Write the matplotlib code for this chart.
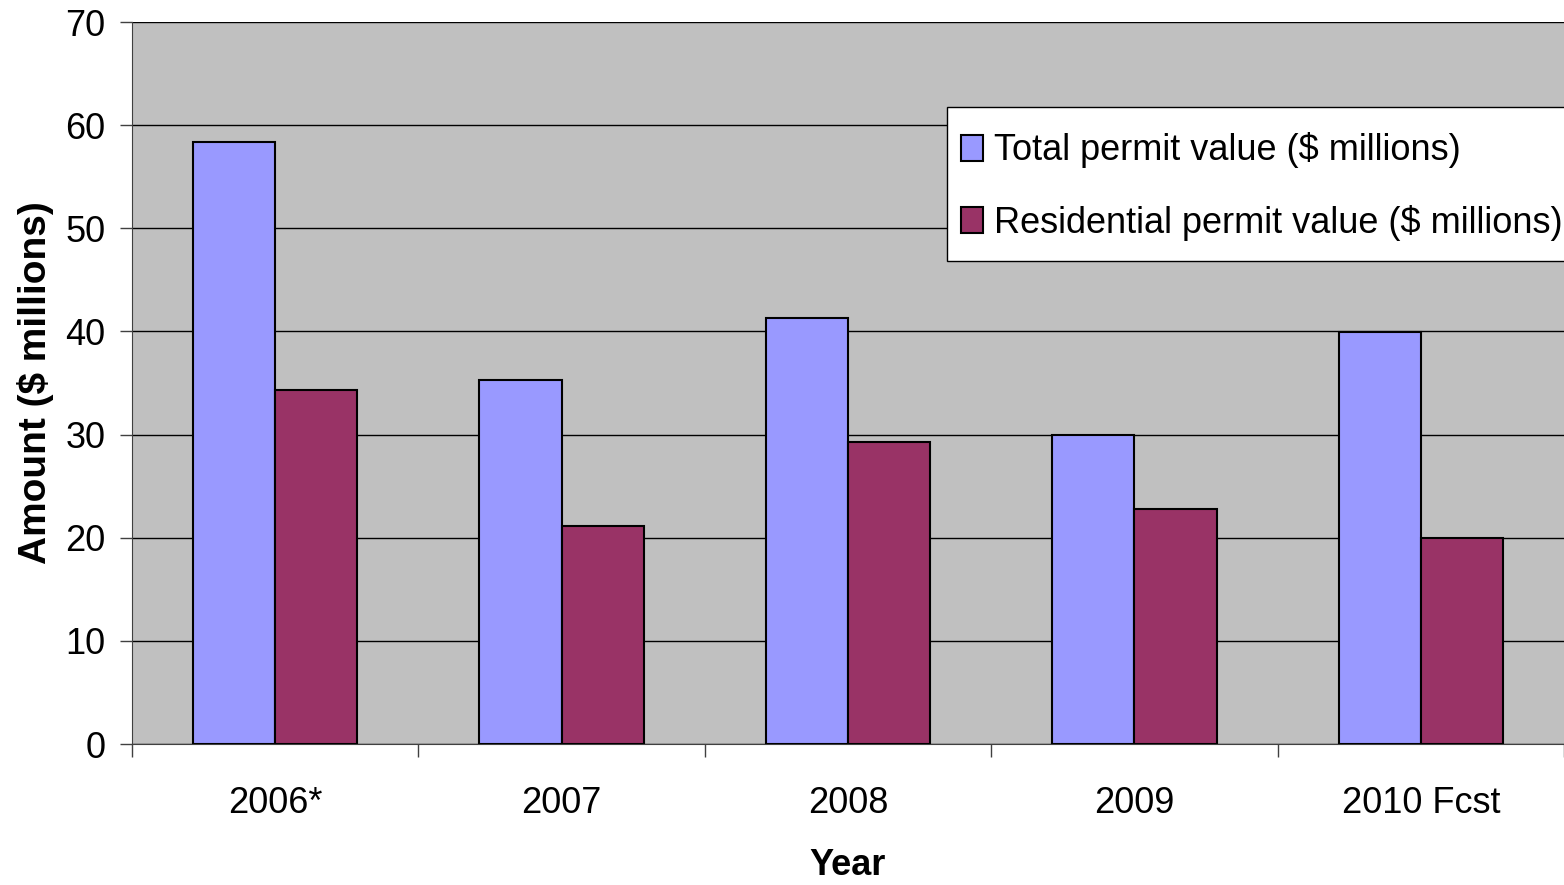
import numpy as np
import matplotlib.pyplot as plt
from matplotlib.patches import Rectangle

plt.rcParams['font.family'] = ['Liberation Sans', 'DejaVu Sans']

# 데이터
years = ['2006*', '2007', '2008', '2009', '2010 Fcst']
total = [58.4, 35.3, 41.3, 30.0, 39.9]
residential = [34.3, 21.1, 29.3, 22.8, 20.0]

x = np.arange(len(years))
w = 0.287

fig = plt.figure(figsize=(15.64, 8.85), dpi=100)
ax = fig.add_axes([132/1564, 141/885, 1 - 132/1564, 722/885])
ax.set_facecolor('#C0C0C0')

ax.bar(x - w/2, total, w, color='#9999FF', edgecolor='black', linewidth=1.5,
       label='Total permit value ($ millions)', zorder=3)
ax.bar(x + w/2, residential, w, color='#993366', edgecolor='black', linewidth=1.5,
       label='Residential permit value ($ millions)', zorder=3)

ax.set_xlim(-0.5, 4.5)
ax.set_ylim(0, 70)
ax.set_yticks(range(0, 71, 10))
ax.yaxis.grid(True, color='black', linewidth=1, zorder=1)

# x축 눈금은 구간 경계, 라벨은 가운데
ax.set_xticks(np.arange(-0.5, 5, 1))
ax.set_xticklabels([])
ax.set_xticks(x, minor=True)
ax.set_xticklabels(years, minor=True, fontsize=26)
ax.tick_params(axis='x', which='minor', length=0, pad=30)
ax.tick_params(axis='x', which='major', length=9, width=1, color='#404040')
ax.tick_params(axis='y', labelsize=26, length=9, width=1, color='#404040', pad=10)

for s in ['top', 'right']:
    ax.spines[s].set_visible(False)
ax.spines['left'].set_color('#404040')
ax.spines['bottom'].set_color('#404040')

ax.set_ylabel('Amount ($ millions)', fontsize=28, fontweight='bold', labelpad=8)
ax.set_xlabel('Year', fontsize=26, fontweight='bold', labelpad=20)

# 범례 상자 (흰 배경 + 검은 테두리)
box = Rectangle((947/1564, 1 - 261/885), 1.0, 154/885, transform=fig.transFigure,
                facecolor='white', edgecolor='black', linewidth=1, zorder=5)
fig.patches.append(box)

leg = fig.legend(loc='upper left', bbox_to_anchor=(947/1564, 1 - 118/885),
                 fontsize=26, frameon=False, borderpad=0.4, labelspacing=1.0,
                 handlelength=0.6, handleheight=0.75, handletextpad=0.3,
                 borderaxespad=0)
leg.set_zorder(6)

fig.savefig('out.png', dpi=100)
